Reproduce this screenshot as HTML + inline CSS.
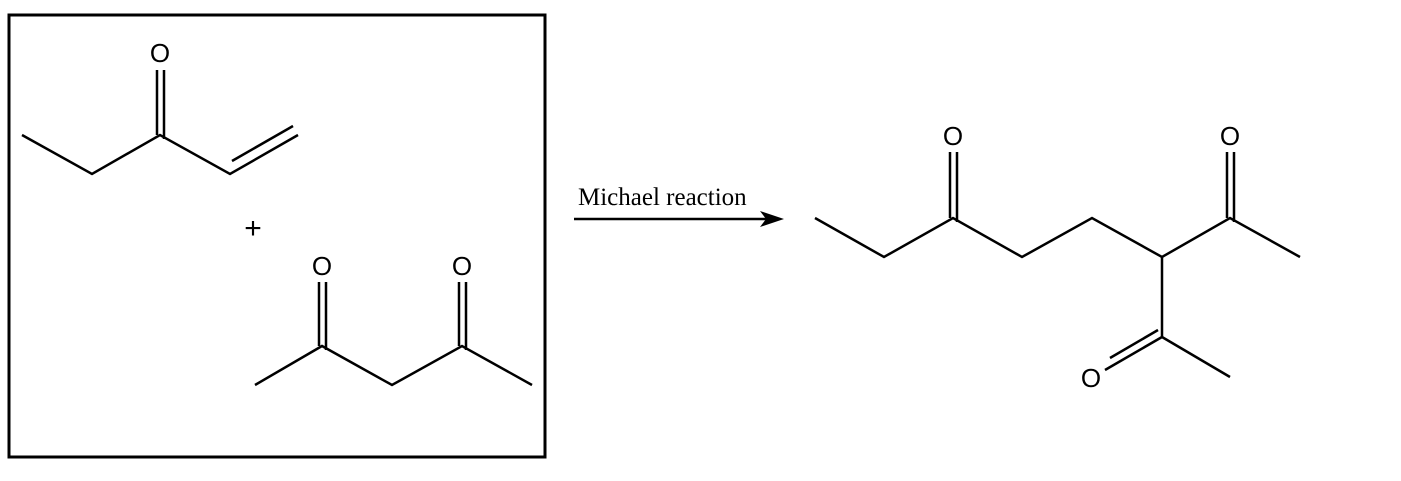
<!DOCTYPE html>
<html><head><meta charset="utf-8"><style>
html,body{margin:0;padding:0;background:#fff;width:1401px;height:481px;overflow:hidden}
svg{display:block}
</style></head><body>
<svg width="1401" height="481" viewBox="0 0 1401 481" xmlns="http://www.w3.org/2000/svg">
<g fill="none" stroke="#000" stroke-width="2.5" stroke-linecap="butt" stroke-linejoin="miter">
<rect x="9" y="15" width="536" height="442" stroke-width="3"/>
<polyline points="22,135 92,174 160,135 230,174 298,135"/>
<line x1="157" y1="135" x2="157" y2="70"/>
<line x1="164" y1="139" x2="164" y2="70"/>
<line x1="232" y1="161" x2="293" y2="126"/>
<polyline points="255,385 322,346 392,385 462,346 532,385"/>
<line x1="319" y1="346" x2="319" y2="282"/>
<line x1="326" y1="350" x2="326" y2="282"/>
<line x1="459" y1="346" x2="459" y2="282"/>
<line x1="466" y1="350" x2="466" y2="282"/>
<line x1="574" y1="219" x2="768" y2="219"/>
<polyline points="815,218 884,257 953,218 1022,257 1092,218 1162,257 1230,218 1300,257"/>
<line x1="950" y1="218" x2="950" y2="152"/>
<line x1="957" y1="222" x2="957" y2="152"/>
<line x1="1227" y1="218" x2="1227" y2="152"/>
<line x1="1234" y1="222" x2="1234" y2="152"/>
<polyline points="1162,257 1162,337 1230,377"/>
<line x1="1162" y1="337" x2="1105" y2="370"/>
<line x1="1158" y1="330" x2="1110" y2="358"/>
</g>
<polygon points="784,219 760,211 766,219 760,227" fill="#000"/>
<g font-family="Liberation Sans, sans-serif" font-size="26" fill="#000" text-anchor="middle">
<text x="160" y="62">O</text>
<text x="322" y="275">O</text>
<text x="462" y="275">O</text>
<text x="953" y="145">O</text>
<text x="1230" y="145">O</text>
<text x="1091" y="387">O</text>
<text x="253" y="238" font-size="30">+</text>
</g>
<text x="578" y="205" font-family="Liberation Serif, serif" font-size="25" fill="#000">Michael reaction</text>
</svg>
</body></html>
